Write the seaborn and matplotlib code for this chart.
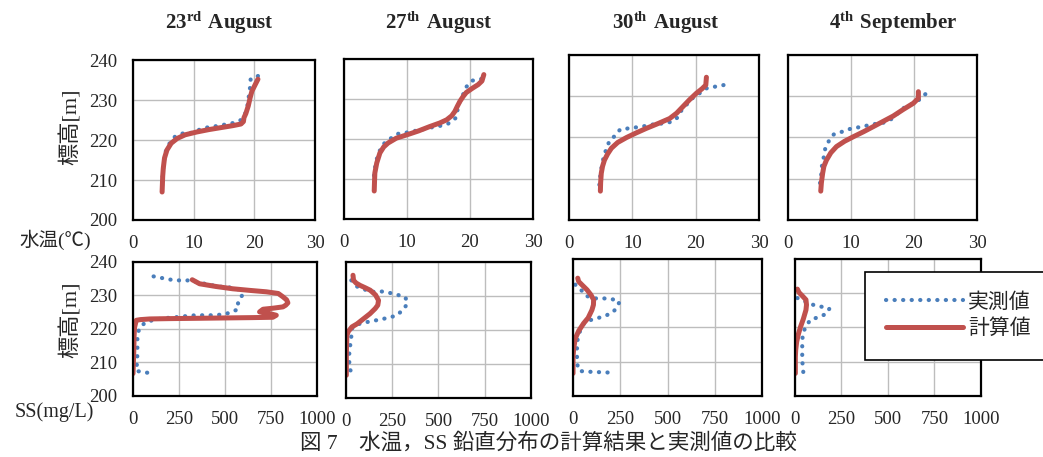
import matplotlib
matplotlib.use("Agg")
import matplotlib.pyplot as plt
import seaborn as sns
import pandas as pd
from matplotlib.lines import Line2D

# ---- data ----
DATES = ["23^{rd}", "27^{th}", "30^{th}", "4^{th}"]
MONTHS = ["August", "August", "August", "September"]

TEMP_TICKS = [0, 10, 20, 30]
SS_TICKS = [0, 250, 500, 750, 1000]
ELEV_TICKS = [200, 210, 220, 230, 240]

# water temperature (degC) vs elevation (m): calculated
temp_calc_x = [
    [4.8, 4.85, 4.9, 5.0, 5.2, 5.6, 6.3, 7.3, 8.6, 10.5, 12.5, 14.5, 16.5, 17.8, 18.2, 18.3, 18.6, 19.0, 19.3, 19.6, 20.1, 20.6],
    [4.8, 4.85, 4.9, 5.2, 5.7, 6.3, 7.0, 8.3, 9.9, 11.8, 13.6, 15.2, 16.3, 17.1, 17.6, 18.0, 18.4, 18.9, 19.4, 20.3, 21.3, 21.9, 22.2],
    [4.96, 5.0, 5.1, 5.3, 5.6, 6.1, 6.7, 7.7, 9.1, 10.6, 12.2, 14.1, 15.9, 17.0, 18.0, 19.0, 20.1, 21.0, 21.6, 21.7],
    [5.2, 5.3, 5.5, 5.7, 6.1, 6.8, 7.7, 9.0, 10.4, 12.0, 13.5, 15.1, 16.7, 18.3, 19.9, 20.7, 20.7],
]
temp_calc_y = [
    [207, 209, 211, 213, 215.5, 217.5, 219.2, 220.4, 221.3, 222, 222.6, 223.1, 223.6, 224.0, 224.6, 225.6, 226.6, 228.5, 230.5, 232.2, 233.7, 235.2],
    [207, 209.5, 211.5, 214, 216.5, 218, 219, 220.2, 221, 222, 223.1, 224, 224.8, 225.8, 226.9, 228.2, 229.4, 230.6, 231.6, 232.6, 233.6, 234.5, 236.1],
    [207, 209, 211.3, 213, 214.5, 216, 217.4, 218.8, 220, 221.1, 222.2, 223.4, 224.6, 225.9, 227.5, 229.1, 230.7, 231.8, 232.7, 234.6],
    [207, 209, 211.3, 213, 214.5, 216.3, 217.8, 219.1, 220.2, 221.4, 222.6, 223.9, 225.2, 226.8, 228.3, 229.5, 231.1],
]
# water temperature: measured
temp_obs_x = [
    [20.6, 19.4, 19.3, 19.1, 18.9, 18.6, 17.8, 16.7, 15.3, 13.9, 12.4, 11.0, 9.6, 8.3, 6.9, 6.2, 5.5, 5.2, 5.0, 4.9, 4.8, 4.8],
    [21.8, 20.4, 19.4, 18.9, 18.3, 17.7, 16.5, 15.3, 13.9, 12.5, 11.2, 9.9, 8.6, 7.8, 6.7, 5.9, 5.3, 5.0, 4.8, 4.7],
    [24.4, 23.0, 21.7, 19.5, 17.8, 17.2, 16.2, 14.8, 13.4, 12.1, 10.8, 9.4, 8.1, 7.4, 6.4, 5.9, 5.5, 5.2, 5.0, 4.8, 4.8],
    [21.8, 21.0, 19.8, 18.5, 17.5, 16.6, 15.2, 13.9, 12.6, 11.3, 9.9, 8.6, 7.3, 6.5, 5.9, 5.7, 5.4, 5.3, 5.1, 5.0],
]
temp_obs_y = [
    [236, 235.3, 233.2, 231, 228.9, 226.9, 225, 224.3, 223.9, 223.5, 223.2, 222.6, 221.8, 221.7, 220.8, 219.6, 217.7, 215.8, 213.5, 211, 209, 207.5],
    [235, 234.6, 233, 231.1, 229, 225.2, 223.8, 223.3, 222.9, 222.4, 222, 221.6, 221.3, 220.5, 219.5, 217.9, 215.6, 213.5, 211.5, 209.5],
    [232.7, 232.3, 231.9, 229.5, 226.7, 224.9, 223.8, 223.4, 223.2, 222.8, 222.5, 222.2, 222, 220.6, 219.2, 217.2, 215.4, 213.3, 211.3, 209.1, 207.5],
    [230.5, 229.3, 228.2, 227.3, 226, 224.6, 223.6, 223.3, 222.9, 222.5, 222.1, 221.4, 220.8, 219.2, 217.2, 215.4, 213.3, 211.3, 209.1, 207.5],
]

# SS (mg/L) vs elevation (m): calculated
ss_calc_x = [
    [322, 362, 450, 543, 640, 725, 790, 815, 835, 842, 830, 815, 760, 707, 688, 715, 743, 779, 760, 652, 500, 362, 200, 91, 40, 18, 9, 6, 5, 3, 0],
    [38, 41, 55, 77, 105, 131, 160, 176, 172, 158, 130, 95, 60, 32, 12, 5, 3, 2, 2, 2],
    [25, 30, 50, 74, 95, 109, 108, 100, 80, 56, 30, 12, 4, 0, 0],
    [13, 22, 40, 59, 62, 59, 45, 30, 18, 9, 4, 2, 2],
]
ss_calc_y = [
    [234.7, 233.5, 232.7, 232, 231.5, 231.1, 230.6, 229.6, 228.7, 227.8, 227.1, 226.6, 226.2, 225.9, 225.1, 224.8, 224.6, 224.1, 223.5, 223.4, 223.3, 223.2, 223.1, 223, 222.8, 222.6, 220.6, 218, 214.7, 211, 206.7],
    [236.1, 234.6, 233.8, 233.1, 232.4, 231.7, 230.3, 228.7, 227.3, 226.3, 224.8, 223.3, 221.8, 220.9, 219.5, 218.4, 215, 212.1, 209, 206.7],
    [234.4, 233.4, 232.3, 231, 229.5, 228.1, 226.6, 225.1, 222.8, 221.2, 219, 216.8, 214, 211.4, 206.6],
    [231.2, 230.2, 229.2, 228.1, 226.6, 225.1, 222.5, 220.2, 218, 215.8, 213.5, 211.4, 206.6],
]
# SS: measured
ss_obs_x = [
    [112, 159, 208, 254, 304, 435, 480, 525, 576, 594, 571, 571, 525, 480, 435, 384, 341, 295, 250, 203, 154, 105, 63, 33, 24, 24, 24, 22, 18, 67, 112],
    [29, 59, 101, 140, 185, 230, 275, 320, 333, 315, 275, 230, 185, 140, 101, 59, 32, 29, 23, 18, 18, 18, 41],
    [12, 47, 70, 118, 162, 206, 246, 234, 214, 179, 135, 95, 53, 39, 25, 21, 21, 21, 33, 77, 121, 165, 211],
    [13, 99, 140, 185, 170, 125, 81, 45, 39, 39, 39, 41, 45],
]
ss_obs_y = [
    [235.7, 235.2, 234.7, 234.5, 234.5, 233, 232.6, 232.4, 231.8, 230.1, 228.1, 225.9, 224.8, 224.3, 224.1, 224.1, 224.1, 223.9, 223.6, 223.4, 223.1, 222.6, 221.8, 220, 217.7, 215.1, 212.7, 210, 207.5, 207, 206.8],
    [234.6, 232.8, 231.9, 231.2, 231.4, 231, 230.4, 229.7, 228, 226.3, 224.3, 223.6, 223.1, 222.6, 222.2, 221.6, 220.4, 218.1, 215.5, 213.2, 210.8, 208.6, 206.9],
    [232.5, 230.7, 229.2, 228.5, 228.5, 228.3, 227.5, 226.1, 224.6, 223.6, 222.8, 222.2, 220.9, 219.3, 216.8, 214.4, 211.9, 209.5, 207.3, 207.1, 207, 206.9, 206.8],
    [228.6, 226.6, 226.1, 225.5, 224, 223, 222.2, 218.8, 216.3, 213.9, 211.4, 209, 206.8],
]

BLUE = "#4a7ebb"
RED = "#c0504d"

# axes boxes in figure fraction [left, bottom, width, height]
TOP_BOXES = [[0.1275, 0.5186, 0.1745, 0.3501], [0.3298, 0.5208, 0.1812, 0.3501],
             [0.5455, 0.5186, 0.1822, 0.3611], [0.7555, 0.5186, 0.1812, 0.3611]]
BOT_BOXES = [[0.1275, 0.1335, 0.1764, 0.2932], [0.3317, 0.1291, 0.1774, 0.2976],
             [0.5494, 0.1335, 0.1812, 0.2998], [0.7622, 0.1335, 0.1783, 0.2998]]
TITLE_X = [219, 439, 666, 893]

sns.set_style("white")
plt.rcParams['font.family'] = ['Liberation Serif', 'Noto Sans CJK JP']
plt.rcParams['mathtext.fontset'] = 'custom'
plt.rcParams['mathtext.rm'] = 'Liberation Serif'
plt.rcParams['mathtext.bf'] = 'Liberation Serif:bold'

TICK_FS = 13.5
OBS_STYLE = dict(color=BLUE, linewidth=3.0, linestyle=(0, (0.05, 2.0)), dash_capstyle='round')
CALC_STYLE = dict(color=RED, linewidth=3.6, solid_capstyle='round')


def style_axes(ax, xlim, xticks, first):
    ax.set_xlim(*xlim)
    ax.set_ylim(200, 240)
    ax.set_xticks(xticks)
    ax.set_yticks(ELEV_TICKS)
    ax.grid(True, color='#bdbdbd', linewidth=1.0)
    ax.tick_params(length=0, pad=11, labelsize=TICK_FS)
    for sp in ax.spines.values():
        sp.set_color('black')
        sp.set_linewidth(1.6)
    ax.set_xlabel('')
    ax.set_ylabel('')
    if not first:
        ax.set_yticklabels([])


def draw_profile(ax, cx, cy, ox, oy):
    obs = pd.DataFrame({'x': ox, 'y': oy})
    calc = pd.DataFrame({'x': cx, 'y': cy})
    sns.lineplot(data=obs, x='x', y='y', sort=False, estimator=None, ax=ax, **OBS_STYLE)
    sns.lineplot(data=calc, x='x', y='y', sort=False, estimator=None, ax=ax, **CALC_STYLE)


fig = plt.figure(figsize=(10.43, 4.57), dpi=100)

for i in range(4):
    ax = fig.add_axes(TOP_BOXES[i])
    draw_profile(ax, temp_calc_x[i], temp_calc_y[i], temp_obs_x[i], temp_obs_y[i])
    style_axes(ax, (0, 30), TEMP_TICKS, i == 0)
    if i == 0:
        ax.set_ylabel('標高[m]', fontsize=16)
        ax.yaxis.set_label_coords(-0.28, 0.58)
    fig.text(TITLE_X[i] / 1043, 0.95,
             r'$\mathbf{%s\ %s}$' % (DATES[i], MONTHS[i]),
             ha='center', va='center', fontsize=15)

    ax = fig.add_axes(BOT_BOXES[i])
    draw_profile(ax, ss_calc_x[i], ss_calc_y[i], ss_obs_x[i], ss_obs_y[i])
    style_axes(ax, (0, 1000), SS_TICKS, i == 0)
    if i == 0:
        ax.set_ylabel('標高[m]', fontsize=16)
        ax.yaxis.set_label_coords(-0.277, 0.567)

fig.text(55 / 1043, 1 - 240 / 457, '水温(℃)', ha='center', va='center', fontsize=14)
fig.text(54 / 1043, 1 - 412 / 457, 'SS(mg/L)', ha='center', va='center', fontsize=14.5)
fig.text(548 / 1043, 1 - 443 / 457, '図 7　水温，SS 鉛直分布の計算結果と実測値の比較',
         ha='center', va='center', fontsize=15.5)

handles = [Line2D([], [], **OBS_STYLE), Line2D([], [], **CALC_STYLE)]
leg = fig.legend(handles, ['実測値', '計算値'], loc='upper left',
                 bbox_to_anchor=(865 / 1043, 1 - 272 / 457), borderaxespad=0,
                 fontsize=15, handlelength=3.7, handletextpad=0.25, labelspacing=0.35,
                 borderpad=1.0, fancybox=False, framealpha=1.0, edgecolor='black')
leg.get_frame().set_linewidth(1.2)

fig.savefig('out.png', dpi=100)
